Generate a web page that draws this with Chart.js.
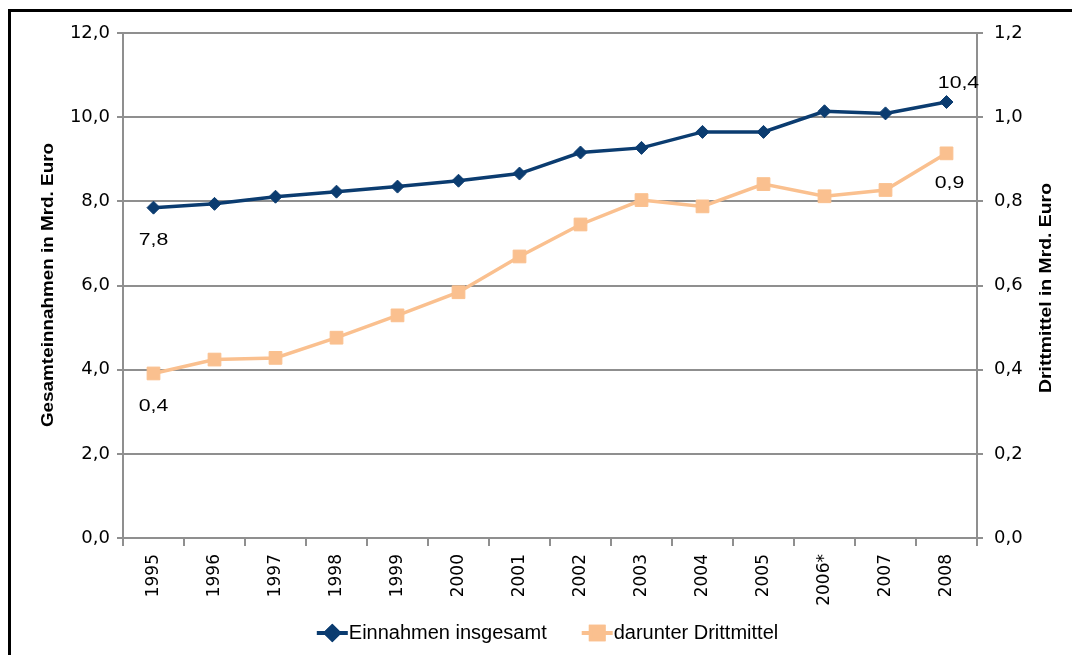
<!DOCTYPE html>
<html>
<head>
<meta charset="utf-8">
<script src="https://cdn.jsdelivr.net/npm/chart.js@4/dist/chart.umd.min.js"></script>
<style>
  body { margin: 0; background: #fff; }
  #wrap { position: relative; width: 1072px; height: 655px; overflow: hidden; }
  #frame { position: absolute; left: 8px; top: 9px; right: -10px; bottom: -10px;
           border-top: 3px solid #000; border-left: 3px solid #000; pointer-events: none; }
</style>
</head>
<body>
<div id="wrap">
  <canvas id="chart" width="1072" height="655"></canvas>
  <div id="frame"></div>
</div>
<script>
// Jahre (2006 mit Fussnote)
var years = ["1995", "1996", "1997", "1998", "1999", "2000", "2001", "2002", "2003", "2004", "2005", "2006*", "2007", "2008"];
// Einnahmen insgesamt, Mrd. Euro (linke Achse)
var einnahmen = [7.85, 7.94, 8.11, 8.23, 8.35, 8.49, 8.66, 9.16, 9.27, 9.65, 9.65, 10.14, 10.09, 10.36];
// darunter Drittmittel, Mrd. Euro (rechte Achse)
var drittmittel = [0.391, 0.424, 0.428, 0.476, 0.529, 0.584, 0.669, 0.745, 0.803, 0.788, 0.841, 0.812, 0.827, 0.914];
// beschriftete Punkte: [datensatz, index, text]
var pointLabels = [
  [0, 0, "7,8"],
  [1, 0, "0,4"],
  [0, 13, "10,4"],
  [1, 13, "0,9"]
];
var leftTitle = "Gesamteinnahmen in Mrd. Euro";
var rightTitle = "Drittmittel in Mrd. Euro";

var FONT = "'Liberation Sans', Arial, sans-serif";
var WIDE = "'DejaVu Sans', 'Liberation Sans', sans-serif";
var gridGray = "#8f8f8f";

function de(v) {
  return Number(v).toFixed(1).replace(".", ",");
}

// gestreckter Text (Vorlage ist in Leserichtung gedehnt)
function stretchedText(ctx, text, x, y, rot, sx) {
  ctx.save();
  ctx.translate(x, y);
  ctx.rotate(rot);
  ctx.scale(sx, 1);
  ctx.fillText(text, 0, 0);
  ctx.restore();
}

var extrasPlugin = {
  id: "extras",
  afterDatasetsDraw: function(chart) {
    var ctx = chart.ctx;
    var area = chart.chartArea;
    ctx.save();
    ctx.fillStyle = "#000";
    ctx.textAlign = "center";
    ctx.textBaseline = "middle";

    // Werte an einzelnen Punkten
    ctx.font = "17px " + FONT;
    pointLabels.forEach(function(p) {
      var pt = chart.getDatasetMeta(p[0]).data[p[1]];
      var dx = 0, dy = 33;
      if (p[0] == 0 && p[1] == 13) { dx = 12; dy = -19; }
      if (p[0] == 1 && p[1] == 13) { dx = 3; dy = 30; }
      stretchedText(ctx, p[2], pt.x + dx, pt.y + dy, 0, 1.25);
    });

    // Achsentitel, beide von unten nach oben
    ctx.font = "bold 17px " + FONT;
    stretchedText(ctx, leftTitle, 48, 285, -Math.PI / 2, 1.11);
    stretchedText(ctx, rightTitle, 1046, 288, -Math.PI / 2, 1.14);

    // Legende: Linie mit Marker + Text
    ctx.font = "20px " + FONT;
    ctx.textAlign = "left";
    var items = chart.data.datasets.map(function(ds) {
      return { ds: ds, w: 31 + 2 + ctx.measureText(ds.label).width };
    });
    var gap = 34;
    var total = items.reduce(function(s, it) { return s + it.w; }, 0) + gap * (items.length - 1);
    var x = (area.left + area.right) / 2 - total / 2 - 2;
    var y = 633;
    items.forEach(function(it) {
      var ds = it.ds;
      ctx.strokeStyle = ds.borderColor;
      ctx.lineWidth = 4;
      ctx.beginPath();
      ctx.moveTo(x, y);
      ctx.lineTo(x + 31, y);
      ctx.stroke();
      Chart.helpers.drawPoint(ctx, {
        pointStyle: ds.pointStyle,
        radius: ds.pointRadius,
        rotation: 0,
        borderWidth: 1
      }, x + 15.5, y);
      ctx.fillStyle = ds.backgroundColor;
      ctx.strokeStyle = ds.borderColor;
      ctx.fill();
      ctx.stroke();
      ctx.fillStyle = "#000";
      ctx.fillText(ds.label, x + 32, y);
      x += it.w + gap;
    });
    ctx.restore();
  }
};

var ctx = document.getElementById("chart").getContext("2d");
var chart = new Chart(ctx, {
  type: "line",
  data: {
    labels: years,
    datasets: [{
      label: "Einnahmen insgesamt",
      data: einnahmen,
      yAxisID: "y",
      borderColor: "#0b3c70",
      backgroundColor: "#0b3c70",
      borderWidth: 3.5,
      pointStyle: "rectRot",
      pointRadius: 6.5,
      pointBorderWidth: 1,
      tension: 0
    }, {
      label: "darunter Drittmittel",
      data: drittmittel,
      yAxisID: "y1",
      borderColor: "#fac08f",
      backgroundColor: "#fac08f",
      borderWidth: 3.5,
      pointStyle: "rect",
      pointRadius: 9,
      pointBorderWidth: 1,
      tension: 0
    }]
  },
  options: {
    responsive: false,
    animation: false,
    layout: { padding: { top: 33, left: 0, right: 0, bottom: 0 } },
    plugins: {
      tooltip: { enabled: false },
      legend: { display: false }
    },
    scales: {
      x: {
        offset: true,
        grid: { drawOnChartArea: false, color: gridGray, lineWidth: 2, tickLength: 8, offset: true },
        border: { color: gridGray, width: 2 },
        ticks: { minRotation: 90, maxRotation: 90, color: "#000", padding: 8, font: { family: WIDE, size: 17 } },
        afterFit: function(scale) { scale.height = 117; }
      },
      y: {
        position: "left",
        min: 0,
        max: 12,
        grid: { color: gridGray, lineWidth: 2, tickLength: 6 },
        border: { color: gridGray, width: 2 },
        ticks: { stepSize: 2, color: "#000", padding: 7, font: { family: WIDE, size: 18 }, callback: de },
        afterFit: function(scale) { scale.width = 123; }
      },
      y1: {
        position: "right",
        min: 0,
        max: 1.2,
        grid: { drawOnChartArea: false, color: gridGray, lineWidth: 2, tickLength: 6 },
        border: { color: gridGray, width: 2 },
        ticks: { stepSize: 0.2, color: "#000", padding: 11, font: { family: WIDE, size: 18 }, callback: de },
        afterFit: function(scale) { scale.width = 1072 - 977; }
      }
    }
  },
  plugins: [extrasPlugin]
});
</script>
</body>
</html>
